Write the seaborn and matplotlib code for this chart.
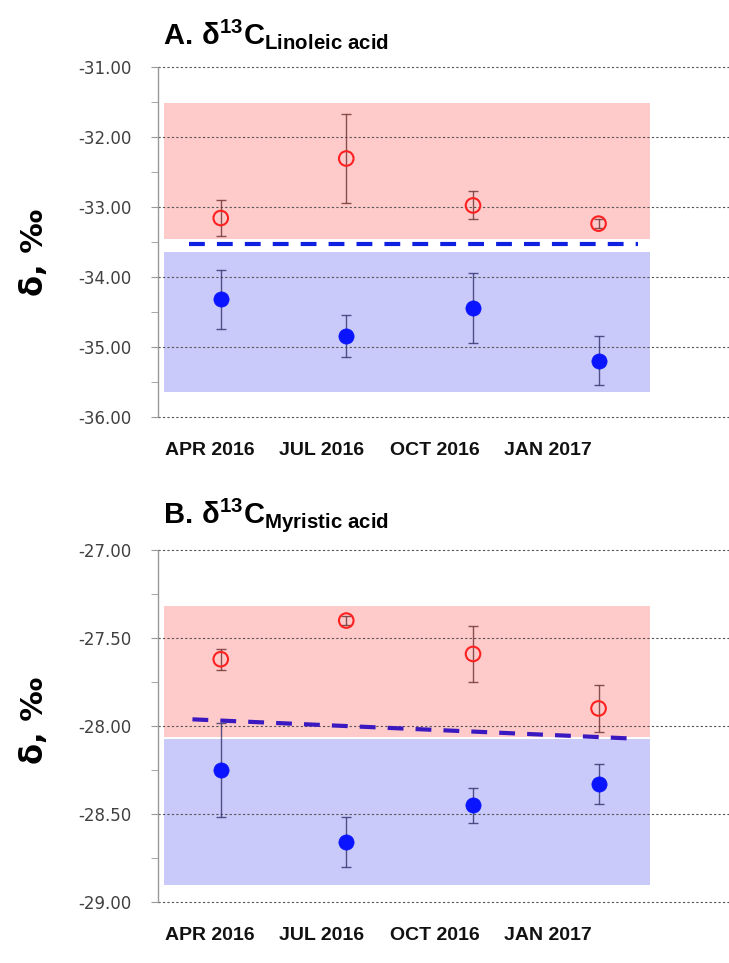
import pandas as pd
import numpy as np
import matplotlib
matplotlib.use("Agg")
import matplotlib.pyplot as plt
import matplotlib.dates as mdates
import seaborn as sns

# sampling dates and values
dates = pd.to_datetime(["2016-04-10", "2016-07-21", "2016-11-01", "2017-02-11"])

lin_red = [-33.16, -32.31, -32.98, -33.24]
lin_red_err = [0.26, 0.63, 0.20, 0.06]
lin_blue = [-34.32, -34.85, -34.44, -35.20]
lin_blue_err = [0.42, 0.30, 0.50, 0.35]

myr_red = [-27.62, -27.40, -27.59, -27.90]
myr_red_err = [0.06, 0.025, 0.16, 0.135]
myr_blue = [-28.25, -28.66, -28.45, -28.33]
myr_blue_err = [0.265, 0.14, 0.10, 0.115]

# shaded ranges (low, high) and dashed boundary lines
lin_red_band = [-33.46, -31.52]
lin_blue_band = [-35.65, -33.65]
myr_red_band = [-28.064, -27.317]
myr_blue_band = [-28.905, -28.076]
band_dates = pd.to_datetime(["2016-02-24", "2017-03-25"])

lin_line_dates = pd.to_datetime(["2016-03-15", "2017-03-15"])
lin_line = [-33.53, -33.53]
myr_line_dates = pd.to_datetime(["2016-03-18", "2017-03-06"])
myr_line = [-27.962, -28.07]

tick_dates = pd.to_datetime(["2016-04-01", "2016-07-01", "2016-10-01", "2017-01-01"])
tick_labels = ["APR 2016", "JUL 2016", "OCT 2016", "JAN 2017"]
xlim_dates = pd.to_datetime(["2016-02-19", "2017-05-28"])

sns.set_style("white")
plt.rcParams["mathtext.fontset"] = "custom"
plt.rcParams["mathtext.rm"] = "Liberation Sans"
plt.rcParams["mathtext.bf"] = "Liberation Sans:bold"
plt.rcParams["mathtext.it"] = "Liberation Sans:bold"
plt.rcParams["mathtext.default"] = "bf"

fig = plt.figure(figsize=(7.29, 9.63), dpi=100)


def panel(rect, red, red_err, blue, blue_err, red_band, blue_band,
          line_dates, line, ylim, major, minor, title, line_color):
    ax = fig.add_axes(rect)
    ax.fill_between(band_dates, red_band[0], red_band[1], color="#ffcaca", lw=0, zorder=0)
    ax.fill_between(band_dates, blue_band[0], blue_band[1], color="#cacafa", lw=0, zorder=0)
    ax.set_yticks(np.arange(ylim[0], ylim[1] + 1e-9, major))
    ax.set_yticks(np.arange(ylim[0], ylim[1] + 1e-9, minor), minor=True)
    ax.grid(axis="y", which="major", linestyle=(0, (2, 2)), color="#555555", lw=0.8, zorder=1)
    for gl in ax.get_ygridlines():
        gl.set_clip_on(False)
    ax.plot(line_dates, line, linestyle=(0, (3.8, 2.9)), color=line_color, lw=3, zorder=2)
    ax.errorbar(dates, red, yerr=red_err, fmt="none", ecolor="#6a3030", elinewidth=1,
                capsize=3.5, capthick=1, alpha=0.8, zorder=3)
    ax.errorbar(dates, blue, yerr=blue_err, fmt="none", ecolor="#30306a", elinewidth=1,
                capsize=3.5, capthick=1, alpha=0.8, zorder=3)
    sns.scatterplot(x=dates, y=red, ax=ax, marker="o", s=110, facecolor="none",
                    edgecolor="#ff2020", linewidth=1.5, zorder=4)
    sns.scatterplot(x=dates, y=blue, ax=ax, marker="o", s=120, color="#0a14ff",
                    edgecolor="#0a14ff", linewidth=0.5, zorder=4)
    ax.set_ylim(ylim)
    ax.set_xlim(xlim_dates)
    ax.set_xticks(mdates.date2num(tick_dates))
    ax.set_xticklabels(tick_labels, fontsize=14, fontweight="bold",
                       family="Liberation Sans", color="#111111")
    ax.tick_params(axis="x", length=0, pad=18)
    ax.tick_params(axis="y", which="both", direction="out", length=5, color="#999999",
                   labelsize=12, labelcolor="#404040", pad=14, left=True)
    ax.yaxis.set_major_formatter(matplotlib.ticker.FormatStrFormatter("%.2f"))
    for s in ["top", "right", "bottom"]:
        ax.spines[s].set_visible(False)
    ax.spines["left"].set_color("#999999")
    ax.spines["left"].set_linewidth(1)
    ax.set_xlabel("")
    ax.set_ylabel("")
    ax.text(0.008, 1.045, title, transform=ax.transAxes, fontsize=21, ha="left",
            va="bottom", color="black")
    return ax


panel([0.2167, 0.567, 0.7833, 0.3637], lin_red, lin_red_err, lin_blue, lin_blue_err,
      lin_red_band, lin_blue_band, lin_line_dates, lin_line, (-36, -31), 1.0, 0.5,
      r"$A.\,\delta^{13}C_{Linoleic\ acid}$", "#1020e0")
panel([0.2167, 0.0636, 0.7833, 0.365], myr_red, myr_red_err, myr_blue, myr_blue_err,
      myr_red_band, myr_blue_band, myr_line_dates, myr_line, (-29, -27), 0.5, 0.25,
      r"$B.\,\delta^{13}C_{Myristic\ acid}$", "#3a1ac0")

fig.text(0.048, 1 - 252 / 963, "δ, ‰", rotation=90, fontsize=22, fontweight="bold",
         ha="center", va="center", color="black")
fig.text(0.048, 1 - 720 / 963, "δ, ‰", rotation=90, fontsize=22, fontweight="bold",
         ha="center", va="center", color="black")

fig.savefig("out.png", dpi=100)
